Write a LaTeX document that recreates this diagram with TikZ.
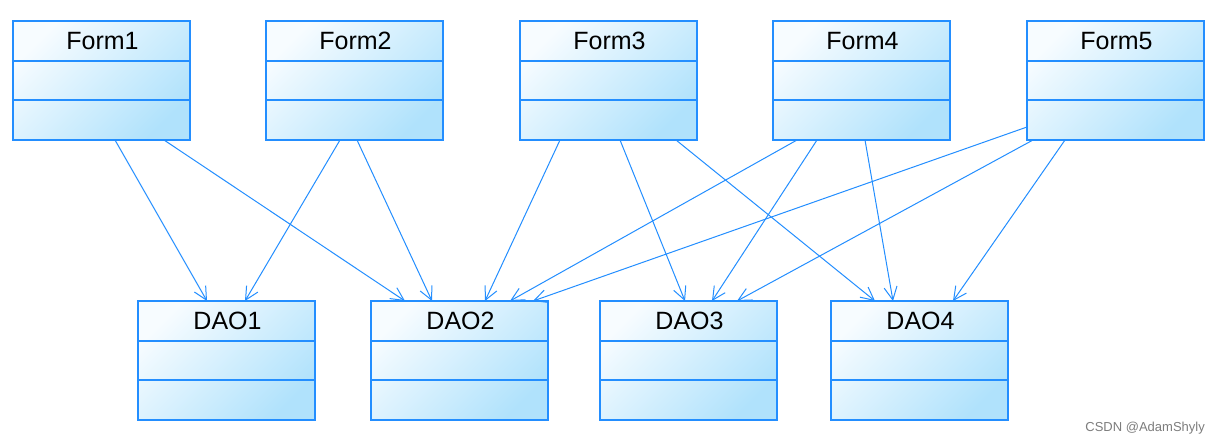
\documentclass[tikz,border=0pt]{standalone}
\usepackage{fontspec}
\setmainfont{Liberation Sans}
\usetikzlibrary{arrows.meta,calc}
\definecolor{umlblue}{RGB}{35,142,255}
\definecolor{filllight}{RGB}{247,252,255}
\definecolor{filldark}{RGB}{176,226,252}
\definecolor{wmgray}{RGB}{125,125,125}
\tikzset{
  classbox/.style={draw=umlblue, line width=1.6pt, minimum width=177pt, minimum height=119pt,
    inner sep=0pt, outer sep=0pt, top color=filllight, bottom color=filldark, shading angle=45},
  divider/.style={draw=umlblue, line width=1.4pt},
  classtitle/.style={inner sep=0pt, font=\fontsize{25}{25}\selectfont, text=black},
  dep/.style={draw=umlblue, line width=1pt, -{Straight Barb[length=13pt,width=13pt,line width=1pt]}},
  watermark/.style={inner sep=0pt, font=\fontsize{13}{13}\selectfont, text=wmgray}
}
\newcommand\umlclass[4]{%
  \node[classbox, anchor=north west] (#1) at (#2,#3) {};
  \draw[divider] ($(#1.north west)+(0,40)$) -- ($(#1.north east)+(0,40)$);
  \draw[divider] ($(#1.north west)+(0,79)$) -- ($(#1.north east)+(0,79)$);
  \node[classtitle, anchor=base] (#1-t) at ($(#1.north)+(1,28)$) {#4};
}
\begin{document}
\begin{tikzpicture}[x=1pt,y=-1pt]
  \fill[white] (0,0) rectangle (1222,442);
  \useasboundingbox (0,0) rectangle (1222,442);
  \umlclass{f1}{13}{21}{Form1}
  \umlclass{f2}{266}{21}{Form2}
  \umlclass{f3}{520}{21}{Form3}
  \umlclass{f4}{773}{21}{Form4}
  \umlclass{f5}{1027}{21}{Form5}
  \umlclass{d1}{138}{301}{DAO1}
  \umlclass{d2}{371}{301}{DAO2}
  \umlclass{d3}{600}{301}{DAO3}
  \umlclass{d4}{831}{301}{DAO4}
  % dependencies
  \draw[dep] ($(f1.south west)+(102,0)$) -- ($(d1.north west)+(69,0)$);
  \draw[dep] ($(f1.south west)+(151,0)$) -- ($(d2.north west)+(34,0)$);
  \draw[dep] ($(f2.south west)+(74,0)$) -- ($(d1.north west)+(107,0)$);
  \draw[dep] ($(f2.south west)+(91,0)$) -- ($(d2.north west)+(61,0)$);
  \draw[dep] ($(f3.south west)+(40,0)$) -- ($(d2.north west)+(114,0)$);
  \draw[dep] ($(f3.south west)+(100,0)$) -- ($(d3.north west)+(85,0)$);
  \draw[dep] ($(f3.south west)+(156,0)$) -- ($(d4.north west)+(44,0)$);
  \draw[dep] ($(f4.south west)+(24,0)$) -- ($(d2.north west)+(139,0)$);
  \draw[dep] ($(f4.south west)+(44,0)$) -- ($(d3.north west)+(112,0)$);
  \draw[dep] ($(f4.south west)+(92,0)$) -- ($(d4.north west)+(62,0)$);
  \draw[dep] ($(f5.north west)+(0,106)$) -- ($(d2.north west)+(162,0)$);
  \draw[dep] ($(f5.south west)+(6,0)$) -- ($(d3.north west)+(137,0)$);
  \draw[dep] ($(f5.south west)+(38,0)$) -- ($(d4.north west)+(122,0)$);
  \node[watermark, anchor=base east] (wm) at (1205,431) {CSDN @AdamShyly};
\end{tikzpicture}
\end{document}
